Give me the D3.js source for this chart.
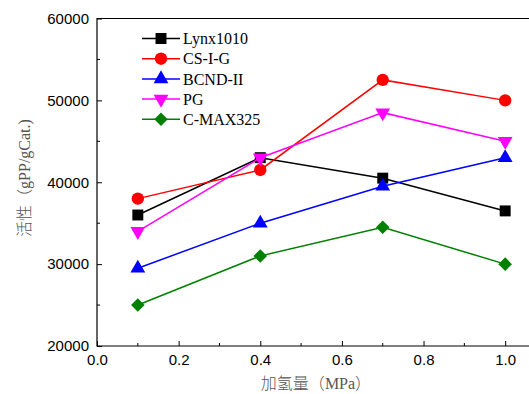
<!DOCTYPE html>
<html>
<head>
<meta charset="utf-8">
<script src="https://cdn.jsdelivr.net/npm/d3@7"></script>
<style>
  body { margin: 0; background: #fff; }
  svg { display: block; }
</style>
</head>
<body>
<svg width="529" height="394"></svg>
<script>
const pressure = [0.1, 0.4, 0.7, 1.0];
const lynx1010 = [36000, 43000, 40500, 36500];
const csig = [38000, 41500, 52500, 50000];
const bcnd = [29500, 35000, 39500, 43000];
const pg = [34000, 43000, 48500, 45000];
const cmax325 = [25000, 31000, 34500, 30000];
const xTicks = [0.0, 0.2, 0.4, 0.6, 0.8, 1.0];
const yTicks = [20000, 30000, 40000, 50000, 60000];

const series = [
    {name: "Lynx1010", values: lynx1010, color: "#000000", symbol: d3.symbolSquare, size: 120, rot: 0},
    {name: "CS-I-G", values: csig, color: "#ff0000", symbol: d3.symbolCircle, size: 120, rot: 0},
    {name: "BCND-II", values: bcnd, color: "#0000ff", symbol: d3.symbolTriangle, size: 95, rot: 0},
    {name: "PG", values: pg, color: "#ff00ff", symbol: d3.symbolTriangle, size: 95, rot: 180},
    {name: "C-MAX325", values: cmax325, color: "#008000", symbol: d3.symbolSquare, size: 92, rot: 45}
];

const plotL = 97, plotR = 546, plotT = 18.5, plotB = 346;

const x = d3.scaleLinear().domain([0, 1.1]).range([plotL, plotR]);
const y = d3.scaleLinear().domain([20000, 60000]).range([plotB, plotT]);

const svg = d3.select("svg");

// frame (right side is off the picture)
svg.append("path")
    .attr("d", "M" + plotR + "," + plotT + "H" + plotL + "V" + plotB + "H" + plotR)
    .attr("fill", "none")
    .attr("stroke", "#000")
    .attr("stroke-width", 1.2);

// minor ticks
const xMinor = d3.range(0.1, 1.1, 0.2);
svg.append("g").selectAll("line")
    .data(xMinor).enter().append("line")
    .attr("x1", d => x(d)).attr("x2", d => x(d))
    .attr("y1", plotB).attr("y2", plotB - 3)
    .attr("stroke", "#000");
const yMinor = [25000, 35000, 45000, 55000];
svg.append("g").selectAll("line")
    .data(yMinor).enter().append("line")
    .attr("y1", d => y(d)).attr("y2", d => y(d))
    .attr("x1", plotL).attr("x2", plotL + 3)
    .attr("stroke", "#000");

const xAxis = svg.append("g")
    .attr("transform", "translate(0," + plotB + ")")
    .call(d3.axisBottom(x).tickValues(xTicks).tickSizeInner(-5).tickSizeOuter(0).tickPadding(10).tickFormat(d3.format(".1f")));
const yAxis = svg.append("g")
    .attr("transform", "translate(" + plotL + ",0)")
    .call(d3.axisLeft(y).tickValues(yTicks).tickSizeInner(-5).tickSizeOuter(0).tickPadding(8).tickFormat(d3.format("d")));

[xAxis, yAxis].forEach(function (a) {
    a.select(".domain").remove();
    a.selectAll("line").attr("stroke", "#000");
    a.selectAll("text")
        .attr("font-family", "Liberation Sans, Arial, sans-serif")
        .attr("font-size", 15)
        .attr("fill", "#000");
});
xAxis.selectAll("text").attr("dy", "0.6em");

// axis titles
const cjk = "'Noto Sans CJK SC', sans-serif";
const serif = "'Liberation Serif', serif";
const xTitle = svg.append("text")
    .attr("x", 316).attr("y", 389)
    .attr("text-anchor", "middle")
    .attr("font-size", 16)
    .attr("font-weight", 300)
    .attr("fill", "#555");
xTitle.append("tspan").attr("font-family", cjk).text("加氢量（");
xTitle.append("tspan").attr("font-family", serif).attr("font-weight", 400).text("MPa");
xTitle.append("tspan").attr("font-family", cjk).text("）");

const yTitle = svg.append("text")
    .attr("transform", "translate(30,178) rotate(-90)")
    .attr("text-anchor", "middle")
    .attr("font-size", 16)
    .attr("font-weight", 300)
    .attr("fill", "#555");
yTitle.append("tspan").attr("font-family", cjk).text("活性（");
yTitle.append("tspan").attr("font-family", serif).attr("font-weight", 400).text("gPP/gCat.)");

const line = d3.line()
    .x((d, i) => x(pressure[i]))
    .y(d => y(d));

series.forEach(function (s) {
    const g = svg.append("g");
    g.append("path")
        .attr("d", line(s.values))
        .attr("fill", "none")
        .attr("stroke", s.color)
        .attr("stroke-width", 1.5);
    g.selectAll("path.m")
        .data(s.values).enter().append("path")
        .attr("class", "m")
        .attr("d", d3.symbol().type(s.symbol).size(s.size))
        .attr("transform", (d, i) => "translate(" + x(pressure[i]) + "," + y(d) + ") rotate(" + s.rot + ")")
        .attr("fill", s.color);
});

// legend
const legend = svg.append("g");
series.forEach(function (s, i) {
    const ly = 38.5 + i * 20.2;
    legend.append("line")
        .attr("x1", 142).attr("x2", 180)
        .attr("y1", ly).attr("y2", ly)
        .attr("stroke", s.color)
        .attr("stroke-width", 1.5);
    legend.append("path")
        .attr("d", d3.symbol().type(s.symbol).size(s.size))
        .attr("transform", "translate(161," + ly + ") rotate(" + s.rot + ")")
        .attr("fill", s.color);
    legend.append("text")
        .attr("x", 183).attr("y", ly)
        .attr("dy", "0.35em")
        .attr("font-family", "Liberation Serif, 'Times New Roman', serif")
        .attr("font-size", 16)
        .text(s.name);
});
</script>
</body>
</html>
